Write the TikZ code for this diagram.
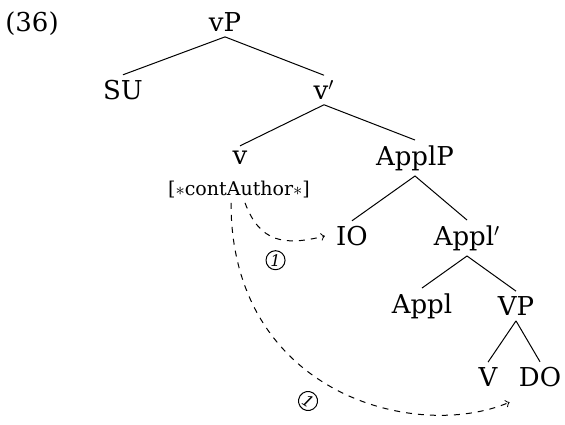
\documentclass[tikz,border=0pt]{standalone}
\usepackage{fontspec}
\setmainfont{DejaVu Serif}
\usepackage{tikz}
\tikzstyle{cat}=[inner sep=2.5pt, font=\fontsize{13}{16}\selectfont]
\tikzstyle{feat}=[inner sep=2pt, font=\fontsize{9.5}{11}\selectfont]
\tikzstyle{tree edge}=[-, draw=black, line width=0.5pt]
\tikzstyle{move edge}=[->, draw=black, dashed, line width=0.5pt]
\tikzstyle{step mark}=[draw, solid, circle, inner sep=0.6pt, font=\fontsize{8}{9}\selectfont\itshape, fill=white]
\pgfdeclarelayer{nodelayer}
\pgfdeclarelayer{edgelayer}
\pgfsetlayers{edgelayer,nodelayer}

\begin{document}
\begin{tikzpicture}[x=0.5pt, y=-0.5pt]
	\useasboundingbox (0,0) rectangle (565,424);
	\begin{pgfonlayer}{nodelayer}
		\node [style=cat] (ex) at (32, 24) {(36)};
		\node [style=cat] (vP) at (225, 22) {vP};
		\node [style=cat] (SU) at (123, 90) {SU};
		\node [style=cat] (vbar) at (324, 90) {v$'$};
		\node [style=cat] (v) at (240, 158) {v};
		\node [style=feat] (ca) at (239, 190) {[$\ast$contAuthor$\ast$]};
		\node [style=cat] (ApplP) at (415, 158) {ApplP};
		\node [style=cat] (IO) at (352, 236) {IO};
		\node [style=cat] (Applbar) at (467, 238) {Appl$'$};
		\node [style=cat] (Appl) at (422, 306) {Appl};
		\node [style=cat] (VP) at (516, 306) {VP};
		\node [style=cat] (V) at (488, 377) {V};
		\node [style=cat] (DO) at (540, 377) {DO};
	\end{pgfonlayer}
	\begin{pgfonlayer}{edgelayer}
		\draw [style=tree edge] (vP.south) to (SU.north);
		\draw [style=tree edge] (vP.south) to (vbar.north);
		\draw [style=tree edge] (vbar.south) to (v.north);
		\draw [style=tree edge] (vbar.south) to (ApplP.north);
		\draw [style=tree edge] (ApplP.south) to (IO.north);
		\draw [style=tree edge] (ApplP.south) to (Applbar.north);
		\draw [style=tree edge] (Applbar.south) to (Appl.north);
		\draw [style=tree edge] (Applbar.south) to (VP.north);
		\draw [style=tree edge] (VP.south) to (V.north);
		\draw [style=tree edge] (VP.south) to (DO.north);
		% movement arrows
		\draw [style=move edge] ([xshift=3pt]ca.south) .. controls +(15,40) and +(-40,10) .. ([xshift=-3pt]IO.west)
			node [pos=0.5, below=6pt, style=step mark] {1};
		\draw [style=move edge] ([xshift=-4pt]ca.south) .. controls +(0,190) and +(-95,40) .. ([xshift=-2pt,yshift=-5pt]DO.south west)
			node [pos=0.46, sloped, below=7pt, style=step mark] {1};
	\end{pgfonlayer}
\end{tikzpicture}
\end{document}
